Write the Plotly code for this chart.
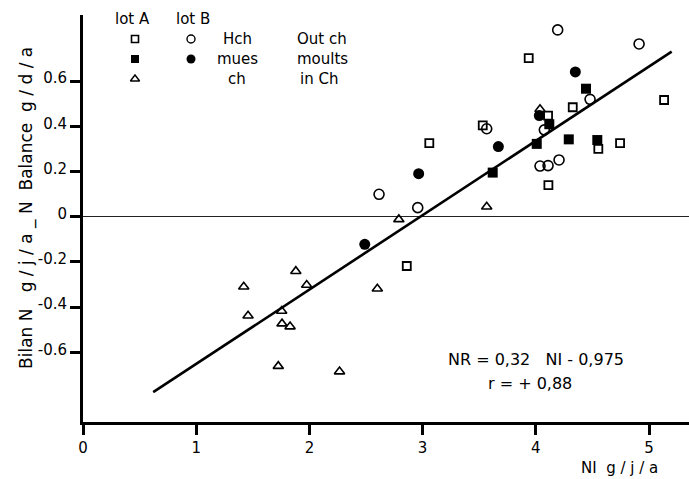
import plotly.graph_objects as go

# ---- data (NI g/j/a, NR g/j/a) ----
a_hch_x = [3.937, 5.133, 4.326, 4.108, 3.531, 3.059, 4.552, 4.744, 4.111, 2.860]
a_hch_y = [0.701, 0.516, 0.484, 0.447, 0.404, 0.325, 0.300, 0.325, 0.140, -0.218]

a_mues_x = [4.443, 4.119, 4.008, 4.291, 4.543, 3.619]
a_mues_y = [0.566, 0.409, 0.322, 0.342, 0.339, 0.195]

a_ch_x = [1.880, 1.420, 1.976, 2.600, 1.755, 1.458, 1.758, 1.829, 1.725, 2.266, 2.790, 3.566, 4.037]
a_ch_y = [-0.241, -0.310, -0.302, -0.319, -0.417, -0.438, -0.473, -0.486, -0.661, -0.685, -0.012, 0.044, 0.475]

b_hch_x = [4.193, 4.912, 4.479, 4.075, 3.566, 4.205, 4.037, 4.108, 2.615, 2.957]
b_hch_y = [0.826, 0.764, 0.519, 0.384, 0.389, 0.251, 0.224, 0.226, 0.099, 0.040]

b_mues_x = [4.349, 4.031, 3.669, 2.965, 2.489]
b_mues_y = [0.640, 0.447, 0.310, 0.190, -0.122]

fit_x = [0.62, 5.20]
fit_y = [-0.776, 0.730]

x_ticks = [0, 1, 2, 3, 4, 5]
x_labels = ["0", "1", "2", "3", "4", "5"]
y_ticks = [0.6, 0.4, 0.2, 0, -0.2, -0.4, -0.6]
y_labels = ["0.6", "0.4", "0.2", "0", "-0.2", "-0.4", "-0.6"]

x_range = [0, 5.353]
y_range = [-0.908, 0.892]

FONT = "DejaVu Sans"
INK = "black"

fig = go.Figure()

# regression line
fig.add_trace(go.Scatter(x=fit_x, y=fit_y, mode="lines",
                         line=dict(color=INK, width=2.6), hoverinfo="skip"))

def add_pts(xs, ys, symbol, size, lw=0):
    fig.add_trace(go.Scatter(x=xs, y=ys, mode="markers",
                             marker=dict(symbol=symbol, size=size, color=INK,
                                         line=dict(color=INK, width=lw))))

add_pts(a_hch_x, a_hch_y, "square-open", 8, 1.8)
add_pts(a_mues_x, a_mues_y, "square", 10)
add_pts(a_ch_x, a_ch_y, "triangle-up-open", 9, 1.6)
add_pts(b_hch_x, b_hch_y, "circle-open", 10, 1.6)
add_pts(b_mues_x, b_mues_y, "circle", 11)

# ---- custom legend (overlay axes in pixel units of the plot area) ----
leg_sym_x = [135, 191, 135, 191, 135]
leg_sym_y = [39, 39, 59, 59, 79]
leg_symbols = ["square-open", "circle-open", "square", "circle", "triangle-up-open"]
leg_sizes = [7, 8, 8, 9, 8]
leg_lw = [1.6, 1.4, 0, 0, 1.4]
for sx, sy, sym, sz, lw in zip(leg_sym_x, leg_sym_y, leg_symbols, leg_sizes, leg_lw):
    fig.add_trace(go.Scatter(x=[sx], y=[sy], mode="markers", xaxis="x2", yaxis="y2",
                             marker=dict(symbol=sym, size=sz, color=INK,
                                         line=dict(color=INK, width=lw)),
                             hoverinfo="skip"))

def txt(x, y, s, size=15, xanchor="center"):
    fig.add_annotation(x=x, y=y, xref="x2", yref="y2",
                       text=s, showarrow=False, xanchor=xanchor, yanchor="middle",
                       font=dict(family=FONT, size=size, color=INK))

txt(132, 19, "lot A")
txt(193, 19, "lot B")
txt(237, 39, "Hch")
txt(237, 59, "mues")
txt(237, 79, "ch")
txt(295, 39, "Out ch", xanchor="left")
txt(295, 59, "moults", xanchor="left")
txt(298, 79, "in Ch", xanchor="left")

# equation
txt(536, 359, "NR = 0,32   NI - 0,975", size=16)
txt(530, 383, "r = + 0,88", size=16)

# axis titles (paper coordinates, outside the plot area)
fig.add_annotation(x=0.952, y=-0.113, xref="paper", yref="paper", text="NI  g / j / a",
                   showarrow=False, xanchor="right", yanchor="middle",
                   font=dict(family=FONT, size=15, color=INK))
fig.add_annotation(x=-0.093, y=0.525, xref="paper", yref="paper",
                   text="Bilan N   g / j / a _ N  Balance  g / d / a",
                   textangle=-90, showarrow=False, xanchor="center", yanchor="middle",
                   font=dict(family=FONT, size=17, color=INK))

fig.update_layout(
    width=689, height=479,
    margin=dict(l=83, r=0, t=15, b=57),
    paper_bgcolor="white", plot_bgcolor="white",
    showlegend=False,
    font=dict(family=FONT, size=15, color=INK),
    xaxis=dict(range=x_range, tickvals=x_ticks, ticktext=x_labels,
               ticks="outside", ticklen=10, tickwidth=3, tickcolor=INK,
               showline=True, linecolor=INK, linewidth=3,
               showgrid=False, zeroline=False,
               tickfont=dict(family=FONT, size=15, color=INK)),
    yaxis=dict(range=y_range, tickvals=y_ticks, ticktext=y_labels,
               ticks="outside", ticklen=10, tickwidth=2.5, tickcolor=INK,
               showline=True, linecolor=INK, linewidth=3,
               showgrid=False, zeroline=True, zerolinecolor="#222", zerolinewidth=1.2,
               ticklabelshift=-3,
               tickfont=dict(family=FONT, size=15, color=INK)),
    xaxis2=dict(range=[83, 689], overlaying="x", visible=False, fixedrange=True),
    yaxis2=dict(range=[422, 15], overlaying="y", visible=False, fixedrange=True),
)

fig.write_html("out.html")
